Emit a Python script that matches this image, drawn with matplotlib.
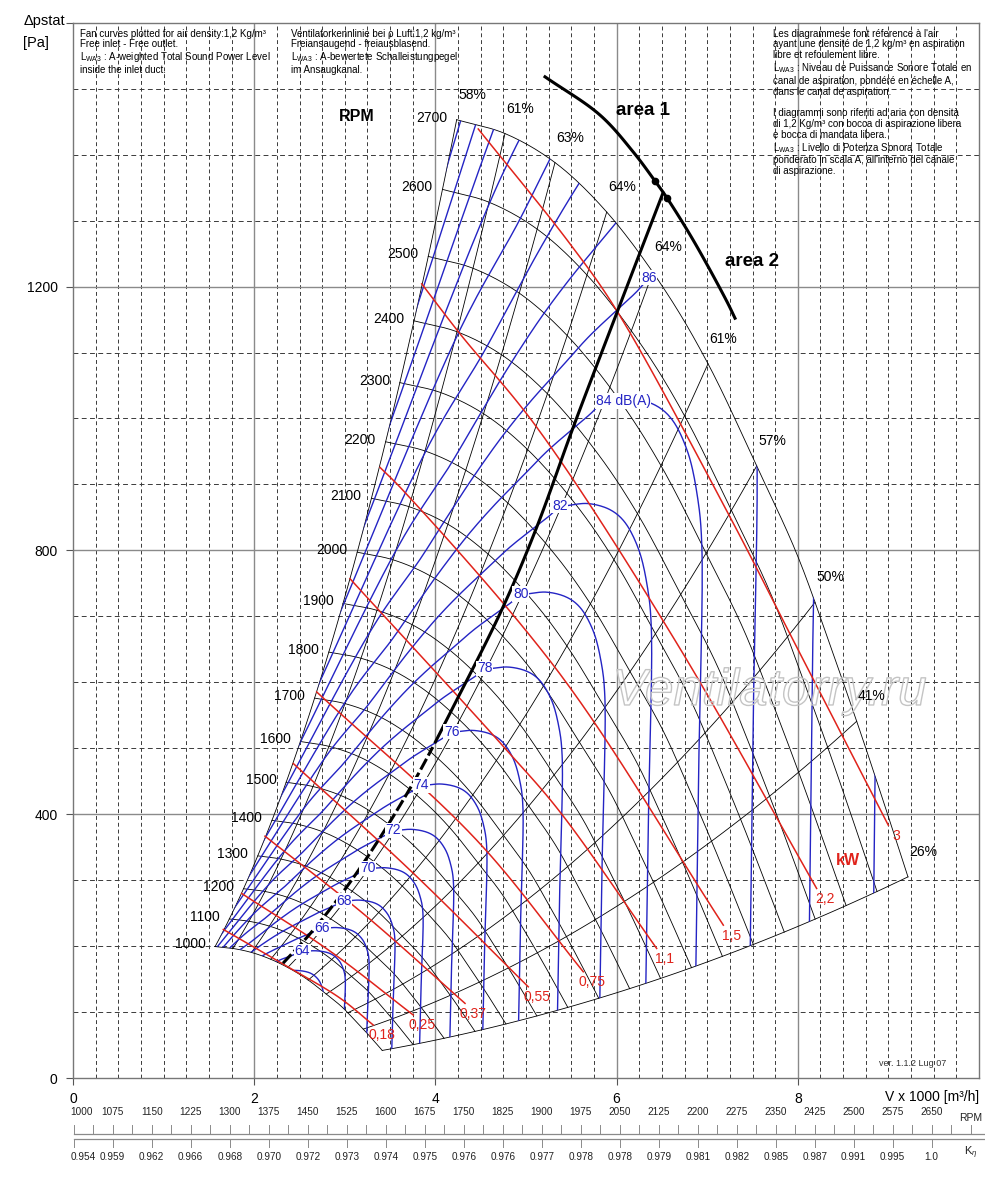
import numpy as np
import matplotlib
matplotlib.use("Agg")
import matplotlib.pyplot as plt
from matplotlib.patches import Polygon
import matplotlib.patheffects as pe

plt.rcParams['font.family'] = ['Liberation Sans', 'DejaVu Sans']
plt.rcParams['mathtext.fontset'] = 'custom'
plt.rcParams['mathtext.rm'] = 'Liberation Sans'
plt.rcParams['mathtext.it'] = 'Liberation Sans:italic'
plt.rcParams['mathtext.bf'] = 'Liberation Sans:bold'

# ------------------------------------------------------------------ data
RPM_LIST = list(range(1000, 2800, 100))
RPM_TOP = 2700

# fan curve at 2700 rpm (V x 1000 m3/h, Pa)
CURVE_V = [4.235, 4.768, 5.320, 5.891, 6.512, 7.009, 7.546, 7.988, 8.355, 8.687, 8.996, 9.216]
CURVE_P = [1453, 1432, 1388, 1313, 1199, 1083, 928, 795, 657, 526, 398, 305]

# efficiency lines: label and flow where they meet the 2700 rpm curve
EFF_TEXT = ['58%', '61%', '63%', '64%', '64%', '61%', '57%', '50%', '41%', '26%']
EFF_V = [4.235, 4.768, 5.320, 5.891, 6.40, 7.009, 7.546, 8.19, 8.65, 9.216]

# sound power level lines, dB(A)
SND_LEVELS = list(range(60, 102, 2))
SND_LABELS = {64: '64', 66: '66', 68: '68', 70: '70', 72: '72', 74: '74',
              76: '76', 78: '78', 80: '80', 82: '82', 84: '84 dB(A)', 86: '86'}
SND_REF_LEVEL = 82
SND_DB_PER_DECADE = 55.0
SND_REF_V = [1.90, 2.815, 3.242, 3.462, 3.720, 4.014, 4.272, 4.566, 4.823, 5.246,
             5.375, 5.463, 5.683, 5.923, 6.083, 6.242, 6.343, 6.383, 6.352, 6.318]
SND_REF_P = [297, 492, 563, 603, 649, 697, 734, 772, 805, 851,
             866, 868, 871, 862, 844, 802, 742, 683, 400, 100]
SND_REF_LABEL_V, SND_REF_LABEL_P = 5.375, 868

# absorbed power lines, kW
KW_TEXT = ['0,18', '0,25', '0,37', '0,55', '0,75', '1,1', '1,5', '2,2', '3']
KW_V = [[1.659, 2.395, 2.947, 3.315],
        [1.862, 2.837, 3.756],
        [2.119, 3.223, 4.327],
        [2.432, 3.720, 5.025],
        [2.690, 4.456, 5.632],
        [3.057, 4.787, 5.375, 6.442],
        [3.389, 3.646, 5.375, 7.178],
        [3.849, 4.272, 5.118, 6.645, 8.208],
        [4.473, 5.486, 6.001, 7.252, 7.950, 8.999]]
KW_P = [[225.3, 166.7, 121.2, 80.3],
        [279.8, 192.4, 95.5],
        [366.7, 247.0, 113.2],
        [476.8, 315.2, 138.3],
        [585.3, 360.6, 161.1],
        [757.1, 497.0, 403.5, 196.5],
        [925.8, 890.5, 612.6, 231.8],
        [1204.1, 1128.3, 986.8, 663.6, 287.4],
        [1438.9, 1264.7, 1163.6, 850.5, 663.6, 383.3]]

# thick line separating area 1 / area 2
DIV_V = [2.318, 2.649, 3.131, 3.753, 4.235, 4.746, 5.118, 5.522, 5.927, 6.512]
DIV_P = [174, 224, 311, 447, 573, 714, 835, 987, 1133, 1342]
DIV_SOLID_FROM = 4.0
AREA_V = [5.210, 5.817, 6.184, 6.424, 6.553, 6.847, 7.215, 7.307]
AREA_P = [1518, 1460, 1404, 1360, 1335, 1270, 1178, 1152]

# bottom scales
SCALE_RPM = list(range(1000, 2651, 75))
SCALE_KETA = ['0.954', '0.959', '0.962', '0.966', '0.968', '0.970', '0.972', '0.973',
              '0.974', '0.975', '0.976', '0.976', '0.977', '0.978', '0.978', '0.979',
              '0.981', '0.982', '0.985', '0.987', '0.991', '0.995', '1.0']

BLUE = '#2424c4'
RED = '#e0231b'
GRID_D = '#3a3a3a'
GRID_S = '#8a8a8a'


def smooth(xs, ys, n=16):
    """centripetal Catmull-Rom through the given points (display-like scaling)."""
    xs = np.asarray(xs, float)
    ys = np.asarray(ys, float)
    if len(xs) < 3:
        return xs, ys
    P = np.column_stack([xs, ys / 137.0])
    E = np.vstack([2 * P[0] - P[1], P, 2 * P[-1] - P[-2]])
    out = []

    def nxt(t, a, b):
        return t + max(np.linalg.norm(b - a), 1e-9) ** 0.5

    for i in range(1, len(E) - 2):
        p0, p1, p2, p3 = E[i - 1], E[i], E[i + 1], E[i + 2]
        t0 = 0.0
        t1 = nxt(t0, p0, p1)
        t2 = nxt(t1, p1, p2)
        t3 = nxt(t2, p2, p3)
        t = np.linspace(t1, t2, n, endpoint=False)[:, None]
        a1 = (t1 - t) / (t1 - t0) * p0 + (t - t0) / (t1 - t0) * p1
        a2 = (t2 - t) / (t2 - t1) * p1 + (t - t1) / (t2 - t1) * p2
        a3 = (t3 - t) / (t3 - t2) * p2 + (t - t2) / (t3 - t2) * p3
        b1 = (t2 - t) / (t2 - t0) * a1 + (t - t0) / (t2 - t0) * a2
        b2 = (t3 - t) / (t3 - t1) * a2 + (t - t1) / (t3 - t1) * a3
        out.append((t2 - t) / (t2 - t1) * b1 + (t - t1) / (t2 - t1) * b2)
    out.append(P[-1:])
    out = np.vstack(out)
    return out[:, 0], out[:, 1] * 137.0


# ------------------------------------------------------------------ figure
fig = plt.figure(figsize=(10, 11.84), dpi=100)
ax = fig.add_axes([0.073, 0.0895, 0.906, 0.8913])
ax.set_xlim(0, 10)
ax.set_ylim(0, 1600)

# grid
for i in range(1, 40):
    x = i * 0.25
    if i % 8 == 0:
        ax.axvline(x, color=GRID_S, lw=1.0, zorder=1)
    else:
        ax.axvline(x, color=GRID_D, lw=0.7, ls=(0, (4, 3)), zorder=1)
for j in range(1, 16):
    y = j * 100
    if j % 4 == 0:
        ax.axhline(y, color=GRID_S, lw=1.0, zorder=1)
    else:
        ax.axhline(y, color=GRID_D, lw=0.7, ls=(0, (5, 3.5)), zorder=1)

for sp in ax.spines.values():
    sp.set_color('#777777')
    sp.set_linewidth(1.0)
ax.set_xticks([0, 2, 4, 6, 8])
ax.set_xticklabels(['0', '2', '4', '6', '8'])
ax.set_yticks([0, 400, 800, 1200, 1600])
ax.set_yticklabels(['0', '400', '800', '1200', ''])
ax.tick_params(axis='both', direction='out', length=5, width=0.8, color='#555555',
               labelsize=10)
ax.tick_params(axis='x', pad=5)
ax.tick_params(axis='y', pad=6)

# base curve and fan-law scaling
bV, bP = smooth(CURVE_V, CURVE_P, 20)
r_lo = RPM_LIST[0] / RPM_TOP
rr = np.linspace(r_lo, 1.0, 60)

# region polygon for clipping
reg_x = np.concatenate([bV[0] * rr, bV, bV[-1] * rr[::-1], bV[::-1] * r_lo])
reg_y = np.concatenate([bP[0] * rr ** 2, bP, bP[-1] * rr[::-1] ** 2, bP[::-1] * r_lo ** 2])
clip = Polygon(np.column_stack([reg_x, reg_y]), closed=True, transform=ax.transData,
               facecolor='none', edgecolor='none')

# RPM curves
for n in RPM_LIST:
    r = n / RPM_TOP
    ax.plot(bV * r, bP * r * r, color='black', lw=0.6, zorder=3)
    ax.annotate(str(n), (bV[0] * r, bP[0] * r * r), xytext=(-7, 1.5),
                textcoords='offset points', ha='right', va='center', fontsize=10,
                zorder=8)

# efficiency lines (system parabolas between 1000 and 2700 rpm)
for txt, v in zip(EFF_TEXT, EFF_V):
    p = float(np.interp(v, bV, bP))
    ax.plot(v * rr, p * rr ** 2, color='black', lw=0.6, zorder=3)
    ax.annotate(txt, (v, p), xytext=(11, 18), textcoords='offset points',
                ha='center', va='center', fontsize=10, zorder=8)

# sound power lines
sV, sP = smooth(SND_REF_V, SND_REF_P, 16)
for c in SND_LEVELS:
    f = 10 ** ((c - SND_REF_LEVEL) / SND_DB_PER_DECADE)
    ln, = ax.plot(sV * f, sP * f * f, color=BLUE, lw=1.0, zorder=4)
    ln.set_clip_path(clip)
    if c in SND_LABELS:
        lx, ly = SND_REF_LABEL_V * f, SND_REF_LABEL_P * f * f
        if c == 84:
            ax.annotate(SND_LABELS[c], (lx, ly), xytext=(-5, 0), textcoords='offset points',
                        ha='left', va='center', fontsize=10, color=BLUE, zorder=9,
                        bbox=dict(boxstyle='square,pad=0.05', fc='white', ec='none'))
        else:
            ax.text(lx, ly, SND_LABELS[c], ha='center', va='center', fontsize=10,
                    color=BLUE, zorder=9,
                    bbox=dict(boxstyle='square,pad=0.05', fc='white', ec='none'))

# power lines
for txt, vs, ps in zip(KW_TEXT, KW_V, KW_P):
    x, y = smooth(vs, ps, 16)
    ax.plot(x, y, color=RED, lw=1.1, zorder=5)
    ax.annotate(txt, (vs[-1], ps[-1]), xytext=(6, -7.5), textcoords='offset points',
                ha='center', va='center', fontsize=10, color=RED, zorder=8)
ax.text(0.8554, 0.2066, 'kW', transform=ax.transAxes, ha='center', va='center',
        fontsize=11.5, fontweight='bold', color=RED, zorder=8)

# thick area divider
dx, dy = smooth(DIV_V, DIV_P, 16)
solid = dx >= DIV_SOLID_FROM
ax.plot(dx[~solid], dy[~solid], color='black', lw=2.2, ls=(0, (4, 1.2)), zorder=6)
ax.plot(dx[solid], dy[solid], color='black', lw=2.2, zorder=6)
axx, axy = smooth(AREA_V, AREA_P, 16)
ax.plot(axx, axy, color='black', lw=2.2, zorder=6)
ax.plot(AREA_V[3:5], AREA_P[3:5], 'o', color='black', ms=4.5, zorder=6)

# texts inside the plot
ax.text(0.3135, 0.9107, 'RPM', transform=ax.transAxes, ha='center', va='center',
        fontsize=11.5, fontweight='bold', zorder=8)
ax.text(0.6286, 0.9166, 'area 1', transform=ax.transAxes, ha='center', va='center',
        fontsize=13.5, fontweight='bold', family=['Liberation Sans Narrow', 'Liberation Sans'],
        zorder=8)
ax.text(0.7491, 0.7735, 'area 2', transform=ax.transAxes, ha='center', va='center',
        fontsize=13.5, fontweight='bold', family=['Liberation Sans Narrow', 'Liberation Sans'],
        zorder=8)
ax.text(0.927, 0.0142, 'ver. 1.1.2 Lug 07', transform=ax.transAxes, ha='center',
        va='center', fontsize=6.5, color='#333333',
        family=['Liberation Sans Narrow', 'Liberation Sans'], zorder=8)
ax.text(0.769, 0.3663, 'Ventilatorry.ru', transform=ax.transAxes, ha='center',
        va='center', fontsize=37, style='italic', color='none', zorder=7,
        path_effects=[pe.Stroke(linewidth=1.0, foreground='#c4c4c4')])

t_en = ('Fan curves plotted for air density:1,2 Kg/m\u00b3\n'
        'Free inlet - Free outlet.\n'
        'L$_{\\rm WA3}$ : A-weighted Total Sound Power Level\n'
        'inside the inlet duct.')
t_de = ('Ventilatorkennlinie bei \u03c1 Luft:1,2 kg/m\u00b3\n'
        'Freiansaugend - freiausblasend.\n'
        'L$_{\\rm WA3}$ : A-bewertete Schalleistungpegel\n'
        'im Ansaugkanal.')
t_fr = ("Les diagrammese font r\u00e9ference \u00e0 l'air\n"
        'ayant une densit\u00e9 de 1,2 kg/m\u00b3 en aspiration\n'
        'libre et refoulement libre.\n'
        'L$_{\\rm WA3}$ : Niveau de Puissance Sonore Totale en\n'
        'canal de aspiration, pond\u00e9r\u00e9 en \u00e9chelle A,\n'
        'dans le canal de aspiration.\n'
        '\n'
        'I diagrammi sono riferiti ad aria con densit\u00e0\n'
        'di 1,2 Kg/m\u00b3 con bocca di aspirazione libera\n'
        'e bocca di mandata libera.\n'
        'L$_{\\rm WA3}$ : Livello di Potenza Sonora Totale\n'
        "ponderato in scala A, all'interno del canale\n"
        'di aspirazione.')
for txt, x in [(t_en, 0.0077), (t_de, 0.2406), (t_fr, 0.7726)]:
    ax.text(x, 0.9945, txt, transform=ax.transAxes, ha='left', va='top',
            fontsize=7.0, linespacing=1.1, zorder=8)

# axis labels
fig.text(0.024, 0.9825, '\u0394pstat', ha='left', va='center', fontsize=10.5)
fig.text(0.023, 0.9639, '[Pa]', ha='left', va='center', fontsize=10.5)
ax.annotate('V x 1000 [m\u00b3/h]', xy=(1, 0), xycoords='axes fraction',
            xytext=(0, -13.5), textcoords='offset points', ha='right', va='center',
            fontsize=10)

# ------------------------------------------------------------------ bottom scales
sax = fig.add_axes([0.073, (1184 - 1170) / 1184, 0.912, 70 / 1184])
step = SCALE_RPM[1] - SCALE_RPM[0]
px_per_step = 39.0
rpm_per_px = step / px_per_step
x0 = SCALE_RPM[0] - 0.7 * rpm_per_px
x1 = x0 + 912 * rpm_per_px
sax.set_xlim(x0, x1)
sax.set_ylim(70, 0)
sax.axis('off')
sc = '#8a8a8a'
sax.plot([SCALE_RPM[0], x1], [34, 34], color=sc, lw=0.9)
sax.plot([SCALE_RPM[0], x1], [39, 39], color=sc, lw=0.9)
minor = np.arange(SCALE_RPM[0], SCALE_RPM[-1] + 2 * step, step / 2)
for t in minor:
    sax.plot([t, t], [25, 34], color=sc, lw=0.7)
for k, (rpm, ke) in enumerate(zip(SCALE_RPM, SCALE_KETA)):
    sax.plot([rpm, rpm], [39, 47], color=sc, lw=0.7)
    ha = 'left' if k == 0 else 'center'
    xo = rpm - 3 * rpm_per_px if k == 0 else rpm
    sax.text(xo, 12, str(rpm), ha=ha, va='center', fontsize=7.2, color='#222222')
    sax.text(xo, 57, ke, ha=ha, va='center', fontsize=7.2, color='#222222')
sax.text(0.9846, 1 - 18 / 70, 'RPM', transform=sax.transAxes, ha='center', va='center',
         fontsize=7.5, color='#222222')
sax.text(0.9846, 1 - 53 / 70, 'K$_{\\eta}$', transform=sax.transAxes, ha='center',
         va='center', fontsize=8, color='#222222')

fig.savefig('out.png', dpi=100)
